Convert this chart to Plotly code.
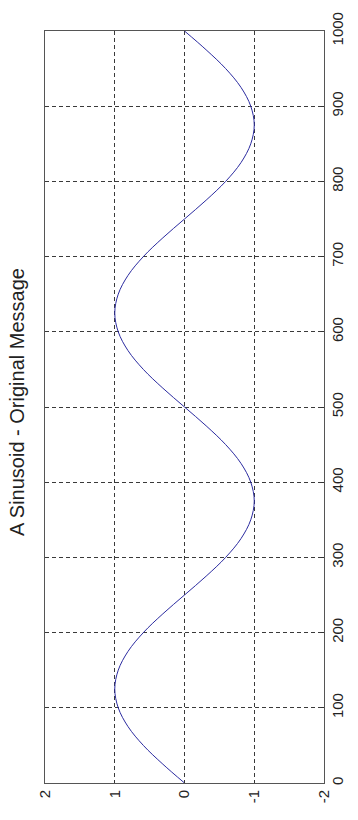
import plotly.graph_objects as go

# sample index (vertical axis in the rotated picture)
samples = [0, 25, 50, 75, 100, 125, 150, 175, 200, 225, 250, 275, 300, 325, 350, 375,
           400, 425, 450, 475, 500, 525, 550, 575, 600, 625, 650, 675, 700, 725, 750,
           775, 800, 825, 850, 875, 900, 925, 950, 975, 1000]
# message amplitude
amplitude = [0.0, 0.31, 0.59, 0.81, 0.95, 1.0, 0.95, 0.81, 0.59, 0.31, 0.0, -0.31, -0.59,
             -0.81, -0.95, -1.0, -0.95, -0.81, -0.59, -0.31, 0.0, 0.31, 0.59, 0.81, 0.95,
             1.0, 0.95, 0.81, 0.59, 0.31, 0.0, -0.31, -0.59, -0.81, -0.95, -1.0, -0.95,
             -0.81, -0.59, -0.31, 0.0]

amp_ticks = [-2, -1, 0, 1, 2]
sample_ticks = [0, 100, 200, 300, 400, 500, 600, 700, 800, 900, 1000]
title_text = "A Sinusoid - Original Message"

fig = go.Figure()
fig.add_trace(go.Scatter(x=amplitude, y=samples, mode="lines",
                         line=dict(color="#2b2ba0", width=1, shape="spline"),
                         showlegend=False))

font = dict(family="Liberation Sans, Arial, sans-serif", size=15, color="#222")

axis_common = dict(showgrid=True, griddash="4px,3px", gridcolor="#3a3a3a", gridwidth=1,
                   zeroline=False, showline=True, linecolor="#555", linewidth=1,
                   mirror=True, ticks="inside", ticklen=3, tickcolor="#333",
                   tickfont=font, tickangle=-90)

fig.update_layout(
    width=358, height=820,
    margin=dict(l=45, r=26, t=30, b=37),
    paper_bgcolor="white", plot_bgcolor="white",
    font=font,
    xaxis=dict(range=[2, -2], tickvals=amp_ticks, ticktext=[str(v) for v in amp_ticks],
               **axis_common),
    yaxis=dict(range=[0, 1000], tickvals=sample_ticks,
               ticktext=[str(v) for v in sample_ticks], side="right", **axis_common),
    annotations=[dict(text=title_text, textangle=-90, xref="paper", yref="paper",
                      x=0, y=0.5, xanchor="right", yanchor="middle", xshift=-15, yshift=5,
                      showarrow=False, font=dict(family="Liberation Sans, Arial, sans-serif",
                                                 size=20, color="#222"))],
)

fig.write_html("out.html")
